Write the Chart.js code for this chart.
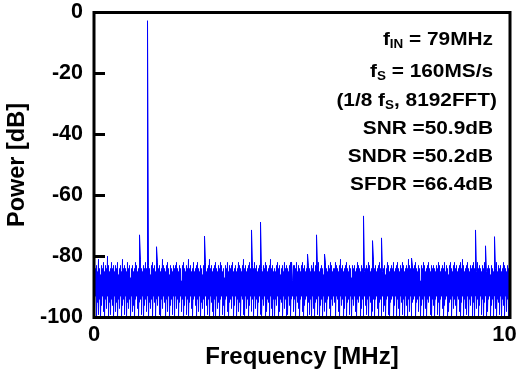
<!DOCTYPE html>
<html>
<head>
<meta charset="utf-8">
<style>
html,body{margin:0;padding:0;background:#fff;}
#wrap{width:519px;height:375px;position:relative;}
</style>
<script src="https://cdn.jsdelivr.net/npm/chart.js@4.4.0/dist/chart.umd.min.js"></script>
</head>
<body>
<div id="wrap"><canvas id="c" width="519" height="375"></canvas></div>
<script>
// ---- data ----
const freqMin = 0, freqMax = 10;          // MHz
const yTicks = [0, -20, -40, -60, -80, -100];
const xTicks = [0, 10];
// noise floor: per frequency bin, local peak and local dip (dB); bins evenly spaced across 0..10 MHz
const noisePeakDb = [
-82,-84,-83,-85,-81,-84,-86,-83,-84,-82,-85,-83,-84,-80,-83,-85,-84,-82,-84,-83,
-85,-83,-84,-82,-86,-84,-83,-85,-81,-84,-83,-84,-85,-82,-84,-83,-87,-84,-83,-85,
-84,-82,-83,-85,-84,-83,-81,-84,-85,-83,-84,-82,-84,-85,-83,-84,-86,-83,-82,-84,
-83,-85,-84,-82,-84,-83,-85,-84,-81,-83,-84,-85,-83,-82,-84,-86,-83,-84,-85,-83,
-84,-83,-82,-84,-85,-83,-84,-88,-83,-82,-84,-85,-83,-84,-81,-84,-83,-85,-84,-82,
-85,-84,-83,-82,-84,-85,-83,-84,-86,-83,-84,-82,-85,-84,-83,-81,-84,-83,-85,-84,
-83,-82,-84,-85,-83,-84,-82,-83,-85,-84,-87,-83,-84,-82,-85,-83,-84,-83,-82,-85,
-84,-83,-85,-84,-82,-83,-84,-85,-83,-81,-84,-83,-85,-84,-83,-82,-84,-86,-83,-84,
-82,-84,-83,-85,-84,-83,-82,-84,-85,-83,-84,-82,-83,-85,-84,-83,-81,-84,-83,-85,
-84,-85,-83,-82,-84,-83,-86,-84,-83,-85,-82,-84,-83,-84,-85,-83,-82,-84,-88,-83,
-83,-84,-82,-85,-83,-84,-85,-83,-82,-84,-83,-85,-84,-81,-83,-84,-85,-83,-84,-82,
-85,-83,-84,-83,-82,-85,-84,-83,-84,-86,-83,-82,-84,-85,-83,-84,-82,-83,-85,-84,
-84,-82,-83,-84,-85,-83,-81,-84,-83,-85,-84,-83,-82,-84,-85,-83,-84,-87,-83,-84,
-83,-85,-84,-82,-83,-84,-85,-83,-84,-82,-85,-84,-83,-84,-82,-83,-85,-84,-83,-81,
-84,-83,-85,-84,-83,-82,-84,-83,-85,-84,-83,-86,-84,-82,-83,-85,-84,-83,-84,-82,
-85,-84,-83,-82,-84,-85,-83,-84,-82,-83,-85,-84,-83,-84,-81,-83,-84,-85,-83,-84,
-83,-82,-84,-85,-83,-84,-88,-83,-84,-82,-83,-85,-84,-83,-82,-84,-85,-83,-84,-83,
-84,-85,-83,-84,-82,-83,-85,-84,-83,-84,-82,-85,-83,-84,-86,-83,-82,-84,-85,-83,
-82,-84,-83,-85,-84,-83,-82,-84,-81,-83,-85,-84,-83,-82,-84,-85,-83,-84,-83,-82,
-84,-83,-85,-82,-84,-83,-84,-85,-83,-84,-82,-83,-85,-84,-83,-84,-86,-83,-84,-85,
-83,-84,-82,-85,-83,-84,-83,-85,-84,-82,-83,-84,-85,-83,-84,-82
];
const noiseDipDb = [
-97,-93,-100,-95,-99,-94,-100,-96,-93,-98,-100,-94,-97,-93,-100,-95,-99,-94,-96,-100,
-93,-98,-95,-100,-94,-97,-93,-100,-96,-94,-99,-93,-100,-95,-97,-94,-100,-93,-98,-96,
-100,-94,-93,-97,-100,-95,-94,-99,-93,-100,-96,-94,-98,-93,-100,-95,-97,-94,-100,-93,
-95,-100,-94,-96,-93,-99,-100,-94,-97,-93,-95,-100,-94,-98,-93,-100,-96,-94,-99,-93,
-100,-93,-97,-94,-100,-95,-93,-98,-94,-100,-96,-93,-99,-94,-100,-95,-93,-97,-100,-94,
-93,-96,-100,-94,-98,-93,-100,-95,-97,-94,-100,-93,-96,-99,-94,-100,-93,-95,-98,-100,
-94,-100,-93,-97,-95,-100,-94,-93,-99,-96,-100,-94,-93,-98,-100,-95,-94,-97,-93,-100,
-96,-93,-100,-94,-98,-95,-100,-93,-94,-99,-100,-93,-97,-94,-100,-96,-93,-98,-94,-100,
-93,-97,-94,-100,-95,-93,-99,-100,-94,-96,-93,-100,-98,-94,-95,-100,-93,-97,-100,-94,
-100,-94,-96,-93,-100,-98,-94,-95,-100,-93,-97,-94,-100,-99,-93,-96,-100,-94,-93,-98,
-94,-100,-93,-95,-97,-100,-94,-93,-98,-100,-96,-94,-93,-100,-95,-99,-94,-100,-93,-97,
-100,-95,-94,-99,-93,-100,-96,-94,-100,-93,-98,-95,-100,-94,-93,-97,-100,-94,-96,-93,
-95,-100,-93,-94,-98,-100,-93,-96,-94,-100,-97,-93,-100,-95,-94,-99,-93,-100,-94,-96,
-93,-98,-100,-94,-95,-93,-100,-97,-94,-100,-93,-96,-99,-94,-100,-93,-95,-100,-98,-94,
-100,-94,-93,-97,-100,-95,-94,-100,-93,-98,-96,-100,-94,-93,-99,-100,-95,-94,-93,-100,
-96,-93,-100,-94,-97,-100,-93,-95,-99,-94,-100,-93,-96,-100,-94,-98,-93,-100,-95,-94,
-93,-100,-95,-94,-98,-93,-100,-96,-94,-100,-93,-97,-100,-94,-95,-93,-99,-100,-94,-96,
-100,-94,-93,-99,-95,-100,-94,-93,-97,-100,-96,-94,-93,-100,-98,-95,-94,-100,-93,-97,
-94,-96,-100,-93,-94,-98,-100,-95,-93,-100,-94,-97,-99,-93,-100,-94,-96,-93,-100,-95,
-100,-93,-97,-94,-100,-96,-93,-99,-94,-100,-95,-93,-100,-98,-94,-93,-100,-96,-94,-100,
-93,-97,-100,-94,-95,-99,-93,-100,-94,-96,-100,-93,-98,-94,-100,-95
];
// fundamental tone and spurs
const toneFreq = [1.29];
const toneDb = [-2.7];
const spurFreq = [1.09, 1.51, 2.65, 3.78, 4.00, 4.75, 5.13, 5.34, 5.55, 6.47, 6.70, 6.92, 7.64, 9.18, 9.42, 9.62];
const spurDb   = [-72.9, -76.8, -73.3, -71.3, -68.7, -81.8, -79.2, -72.9, -79.2, -66.7, -74.8, -73.9, -80.5, -71.3, -76.5, -73.5];
const annotations = [
  [{t:'f'},{t:'IN',sub:true},{t:' = 79MHz'}],
  [{t:'f'},{t:'S',sub:true},{t:' = 160MS/s'}],
  [{t:'(1/8 f'},{t:'S',sub:true},{t:', 8192FFT)'}],
  [{t:'SNR =50.9dB'}],
  [{t:'SNDR =50.2dB'}],
  [{t:'SFDR =66.4dB'}]
];

// ---- build series: each bin centred at (i + 0.5) * binWidth ----
const nBins = noisePeakDb.length;
const binW = (freqMax - freqMin) / nBins;
const binCenter = f => freqMin + (Math.min(nBins - 1, Math.max(0, Math.floor((f - freqMin) / binW))) + 0.5) * binW;
const pts = [];
for (let i = 0; i < nBins; i++) {
  const f = freqMin + (i + 0.5) * binW;
  pts.push({x: f, y: noisePeakDb[i]});
  pts.push({x: f, y: noiseDipDb[i]});
}
toneFreq.forEach((f, i) => pts.push({x: binCenter(f), y: toneDb[i]}));
spurFreq.forEach((f, i) => pts.push({x: binCenter(f), y: spurDb[i]}));
pts.sort((a, b) => a.x - b.x);

const FONT = '"Liberation Sans", Arial, sans-serif';

const framePlugin = {
  id: 'frame',
  afterDraw(chart) {
    const {ctx, chartArea: a, scales} = chart;
    ctx.save();
    ctx.strokeStyle = '#000';
    ctx.lineWidth = 3;
    ctx.strokeRect(a.left, a.top, a.right - a.left, a.bottom - a.top);
    // inward ticks
    ctx.beginPath();
    yTicks.forEach(v => {
      const y = scales.y.getPixelForValue(v);
      ctx.moveTo(a.left, y); ctx.lineTo(a.left + 11, y);
    });
    ctx.stroke();
    // annotations (slightly wide lettering)
    ctx.fillStyle = '#000';
    ctx.textBaseline = 'alphabetic';
    const sx = 1.12;
    const baselines = [45, 77, 105.5, 133.5, 162, 190];
    const rights = [493, 493, 497, 493, 493, 493];
    const mainSize = 18.6, subSize = 12;
    annotations.forEach((line, li) => {
      let w = 0;
      line.forEach(p => {
        ctx.font = 'bold ' + (p.sub ? subSize : mainSize) + 'px ' + FONT;
        w += ctx.measureText(p.t).width;
      });
      ctx.save();
      ctx.translate(rights[li] - w * sx, baselines[li]);
      ctx.scale(sx, 1);
      let x = 0;
      line.forEach(p => {
        ctx.font = 'bold ' + (p.sub ? subSize : mainSize) + 'px ' + FONT;
        ctx.fillText(p.t, x, p.sub ? 3 : 0);
        x += ctx.measureText(p.t).width;
      });
      ctx.restore();
    });
    ctx.restore();
  }
};

new Chart(document.getElementById('c'), {
  type: 'line',
  data: {
    datasets: [{
      data: pts,
      borderColor: '#0000ff',
      borderWidth: 1,
      pointRadius: 0,
      tension: 0,
      fill: false
    }]
  },
  options: {
    responsive: false,
    animation: false,
    events: [],
    layout: {padding: {top: 12.5, right: 9, left: 0, bottom: 0}},
    plugins: {legend: {display: false}, tooltip: {enabled: false}},
    scales: {
      x: {
        type: 'linear',
        min: freqMin, max: freqMax,
        afterFit(s) { s.height = 57.5; s.paddingLeft = 0; s.paddingRight = 0; },
        afterBuildTicks(s) { s.ticks = xTicks.map(v => ({value: v})); },
        grid: {display: false, drawTicks: false},
        border: {display: false},
        ticks: {color: '#000', padding: 4, maxRotation: 0,
                callback: v => v === freqMax ? String(v) + '\u2002' : String(v),
                font: {family: FONT, size: 22, weight: 'bold'}},
        title: {display: true, text: 'Frequency [MHz]', color: '#000', padding: {top: 0, bottom: 3},
                font: {family: FONT, size: 24, weight: 'bold'}}
      },
      y: {
        type: 'linear',
        min: -100, max: 0,
        afterFit(s) { s.width = 94; s.paddingTop = 0; s.paddingBottom = 0; },
        afterBuildTicks(s) { s.ticks = yTicks.map(v => ({value: v})); },
        grid: {display: false, drawTicks: false},
        border: {display: false},
        ticks: {color: '#000', padding: 11, font: {family: FONT, size: 21.5, weight: 'bold'}},
        title: {display: true, text: 'Power [dB]', color: '#000', padding: {top: 3, bottom: 0},
                font: {family: FONT, size: 23.5, weight: 'bold'}}
      }
    }
  },
  plugins: [framePlugin]
});
</script>
</body>
</html>
